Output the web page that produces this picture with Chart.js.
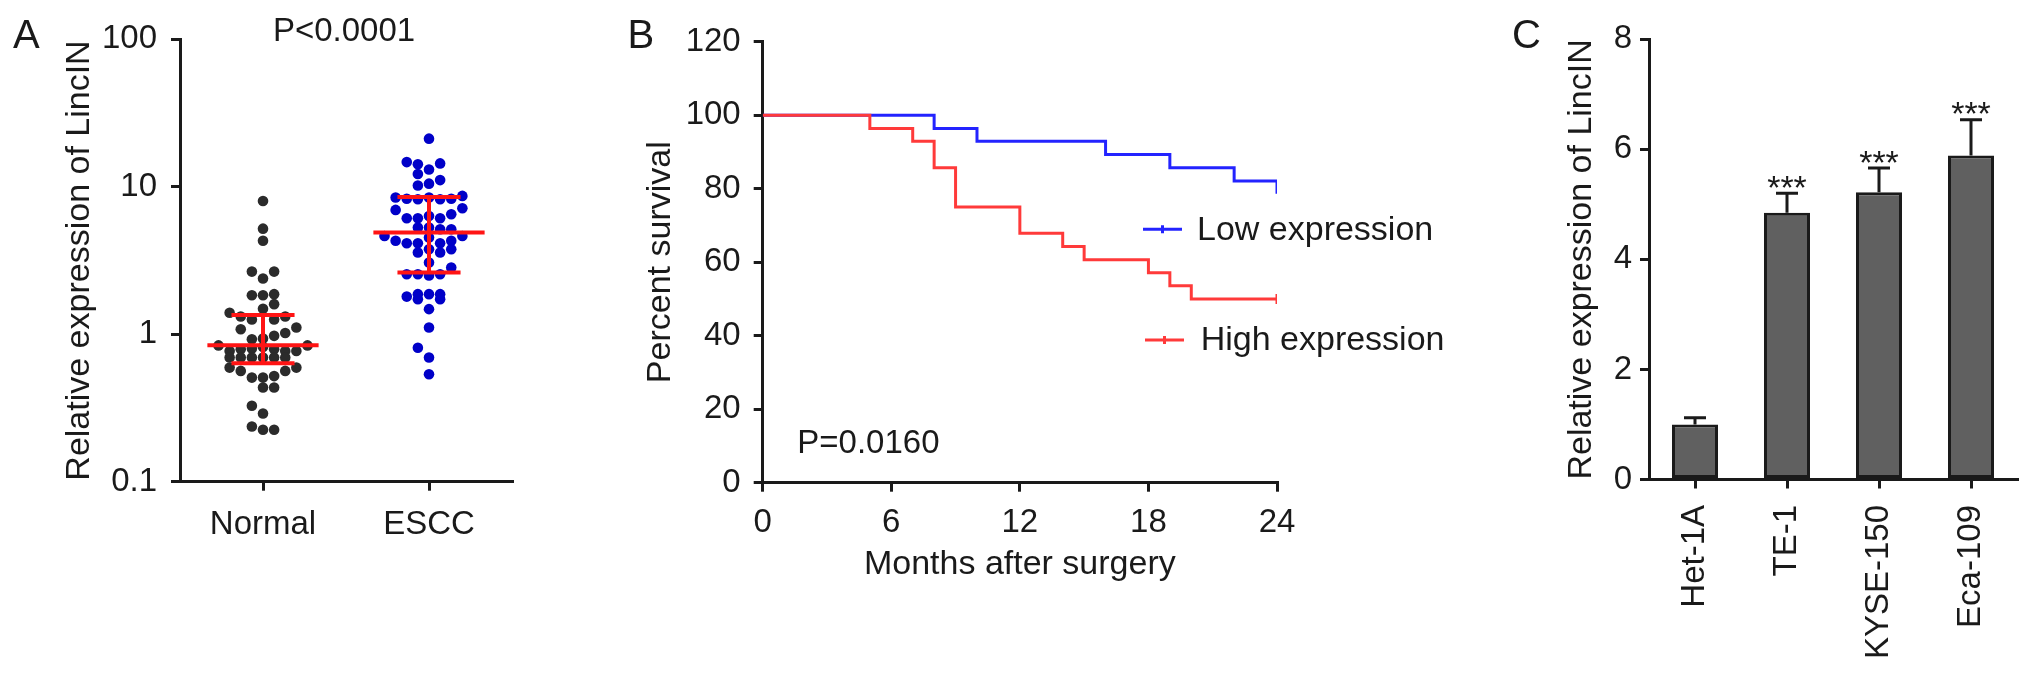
<!DOCTYPE html>
<html>
<head>
<meta charset="utf-8">
<script src="https://cdn.jsdelivr.net/npm/chart.js@4.4.1/dist/chart.umd.min.js"></script>
<style>
  html, body { margin: 0; padding: 0; background: #fff; }
  #wrap { position: relative; width: 2032px; height: 674px; overflow: hidden; background: #fff; }
  canvas { position: absolute; top: 0; }
</style>
</head>
<body>
<div id="wrap">
  <canvas id="panelA" width="600" height="674" style="left:0px"></canvas>
  <canvas id="panelB" width="880" height="674" style="left:600px"></canvas>
  <canvas id="panelC" width="552" height="674" style="left:1480px"></canvas>
</div>
<script>
"use strict";
// ---- panel A: dot plot, log scale ----
const groupsA = ['Normal', 'ESCC'];
const ticksA = [0.1, 1, 10, 100];
const normalValues = [8.0, 5.2, 4.3, 2.66, 2.66, 2.39, 1.84, 1.84, 1.87, 1.60, 1.49, 1.40,
  1.32, 1.26, 1.26, 1.32, 1.08, 1.02, 1.11, 0.975, 0.925, 0.935, 0.84, 0.84,
  0.77, 0.79, 0.80, 0.82, 0.79, 0.77, 0.77, 0.695, 0.695, 0.695, 0.695, 0.695, 0.695,
  0.594, 0.594, 0.564, 0.564, 0.508, 0.508, 0.52, 0.435, 0.435, 0.327, 0.29, 0.237, 0.225, 0.225];
const normalSlots = [0, 0, 0, -1, 1, 0, -1, 0, 1, 1, 0, -3,
  -2, -1, 1, 2, -2, 2, 3, 1, -1, 0, -4, 4,
  -3, -2, -1, 0, 1, 2, 3, -3, -2, -1, 0, 1, 2,
  -3, 3, -2, 2, -1, 0, 1, 0, 1, -1, 0, -1, 0, 1];
const esccValues = [21.2, 14.7, 14.2, 14.4, 13.1, 12.2, 11.1, 10.5, 10.2,
  8.45, 8.3, 8.22, 8.45, 8.22, 8.3, 8.67, 6.97, 7.15,
  6.11, 6.11, 6.34, 6.11, 6.51, 5.29, 5.29, 5.15, 5.15,
  4.64, 4.30, 4.14, 4.14, 4.52, 4.14, 4.30, 4.64,
  3.58, 3.77, 3.58, 3.77, 3.06, 2.83, 2.55, 2.55, 2.50, 2.55,
  1.87, 1.87, 1.87, 1.80, 1.73, 1.73, 1.48, 1.11, 0.81, 0.695, 0.535];
const esccSlots = [0, -2, -1, 1, 0, -1, 1, 0, -1,
  -3, -2, -1, 0, 1, 2, 3, -3, 3,
  -2, -1, 0, 1, 2, -1, 0, 1, 2,
  -4, -3, -2, -1, 0, 1, 2, 3,
  -1, 0, 1, 2, 0, 2, -2, -1, 0, 1,
  -1, 0, 1, -2, -1, 1, 0, 0, -1, 0, 0];
// red summary bars
const summaryMid = [0.842, 4.89];
const summaryHigh = [1.35, 8.53];
const summaryLow = [0.636, 2.62];

// ---- panel B: survival curves ----
const seriesB = ['Low expression', 'High expression'];
const lowMonths = [0, 8, 10, 16, 19, 22, 24];
const lowSurvival = [100, 96.4, 92.9, 89.3, 85.7, 82.1, 78.6];
const highMonths = [0, 5, 7, 8, 9, 12, 14, 15, 18, 19, 20, 24];
const highSurvival = [100, 96.4, 92.9, 85.7, 75.0, 67.9, 64.3, 60.7, 57.1, 53.6, 50.0, 50.0];
const highCensorMonths = [24];
const highCensorSurvival = [50.0];

// ---- panel C: bars ----
const cellLines = ['Het-1A', 'TE-1', 'KYSE-150', 'Eca-109'];
const relExpr = [1.0, 4.85, 5.22, 5.89];
const relSd = [0.12, 0.35, 0.44, 0.65];
const sigMarks = ['', '***', '***', '***'];

const FONT = "'Liberation Sans', Arial, Helvetica, sans-serif";
const INK = '#1a1a1a';
const BLUE = '#2323ff';
const RED = '#ff3a3a';
const SWARM_STEP = 0.067;

Chart.defaults.font.family = FONT;
Chart.defaults.color = INK;
Chart.defaults.animation = false;

function axisLines() {
  return {
    grid: { drawOnChartArea: false, drawTicks: true, tickLength: 9, color: INK, lineWidth: 3 },
    border: { display: true, color: INK, width: 3 }
  };
}

function textPlugin(id, items) {
  return {
    id: id,
    afterDraw(chart) {
      const ctx = chart.ctx;
      ctx.save();
      ctx.fillStyle = INK;
      ctx.textBaseline = 'alphabetic';
      items.forEach(t => {
        ctx.font = t.size + 'px ' + FONT;
        ctx.textAlign = t.align || 'left';
        ctx.fillText(t.text, t.x, t.y);
      });
      ctx.restore();
    }
  };
}

function swarm(values, slots, group) {
  return values.map((v, i) => ({ x: group + 0.5 + slots[i] * SWARM_STEP, y: v }));
}

const summaryPlugin = {
  id: 'summaryBars',
  afterDatasetsDraw(chart) {
    const { ctx, scales: { x, y } } = chart;
    ctx.save();
    ctx.strokeStyle = '#ff1414';
    ctx.lineWidth = 4;
    groupsA.forEach((g, i) => {
      const c = i + 0.5;
      const px = x.getPixelForValue(c);
      const midL = x.getPixelForValue(c - 0.335), midR = x.getPixelForValue(c + 0.335);
      const capL = x.getPixelForValue(c - 0.19), capR = x.getPixelForValue(c + 0.19);
      const yMid = y.getPixelForValue(summaryMid[i]);
      const yHi = y.getPixelForValue(summaryHigh[i]);
      const yLo = y.getPixelForValue(summaryLow[i]);
      ctx.beginPath();
      ctx.moveTo(midL, yMid); ctx.lineTo(midR, yMid);
      ctx.moveTo(capL, yHi); ctx.lineTo(capR, yHi);
      ctx.moveTo(capL, yLo); ctx.lineTo(capR, yLo);
      ctx.moveTo(px, yHi); ctx.lineTo(px, yLo);
      ctx.stroke();
    });
    ctx.restore();
  }
};

new Chart(document.getElementById('panelA'), {
  type: 'scatter',
  data: {
    datasets: [
      { data: swarm(normalValues, normalSlots, 0), backgroundColor: '#2b2b2b', pointRadius: 5.3, borderWidth: 0 },
      { data: swarm(esccValues, esccSlots, 1), backgroundColor: '#0000c8', pointRadius: 5.3, borderWidth: 0 }
    ]
  },
  options: {
    responsive: false,
    layout: { padding: { left: 0, right: 88, top: 39.3, bottom: 0 } },
    plugins: { legend: { display: false }, tooltip: { enabled: false } },
    scales: {
      x: Object.assign(axisLines(), {
        type: 'linear', min: 0, max: 2,
        afterBuildTicks: s => { s.ticks = groupsA.map((g, i) => ({ value: i + 0.5 })); },
        afterFit: s => { s.height = 192.3; },
        ticks: { padding: 14.5, font: { size: 33 }, color: INK, callback: (v, i) => groupsA[i] }
      }),
      y: Object.assign(axisLines(), {
        type: 'logarithmic', min: 0.1, max: 100,
        afterBuildTicks: s => { s.ticks = ticksA.map(v => ({ value: v })); },
        afterFit: s => { s.width = 180; },
        ticks: { padding: 14, font: { size: 33 }, color: INK, callback: v => String(v) },
        title: { display: true, text: 'Relative expression of LincIN', font: { size: 34 }, color: INK, padding: { top: 59.6, bottom: 0 } }
      })
    }
  },
  plugins: [summaryPlugin, textPlugin('notesA', [
    { text: 'A', x: 13, y: 48, size: 40 },
    { text: 'P<0.0001', x: 344, y: 41, size: 33, align: 'center' }
  ])]
});

function curve(months, surv) {
  return months.map((m, i) => ({ x: m, y: surv[i] }));
}

const legendB = {
  id: 'legendB',
  afterDraw(chart) {
    const ctx = chart.ctx;
    const rows = [
      { color: BLUE, lineY: 229.3, x0: 543, textX: 597, base: 240 },
      { color: RED, lineY: 340, x0: 545, textX: 600.7, base: 350 }
    ];
    ctx.save();
    rows.forEach((r, i) => {
      ctx.strokeStyle = r.color;
      ctx.lineWidth = 3;
      ctx.beginPath();
      ctx.moveTo(r.x0, r.lineY); ctx.lineTo(r.x0 + 39, r.lineY);
      ctx.moveTo(r.x0 + 19.5, r.lineY - 4); ctx.lineTo(r.x0 + 19.5, r.lineY + 4);
      ctx.stroke();
      ctx.fillStyle = INK;
      ctx.font = '34px ' + FONT;
      ctx.textAlign = 'left';
      ctx.textBaseline = 'alphabetic';
      ctx.fillText(seriesB[i], r.textX, r.base);
    });
    ctx.restore();
  }
};

new Chart(document.getElementById('panelB'), {
  type: 'line',
  data: {
    datasets: [
      { label: seriesB[1], data: curve(highMonths, highSurvival), borderColor: RED, borderWidth: 3, stepped: true, pointRadius: 0, fill: false },
      { label: 'censor', data: curve(highCensorMonths, highCensorSurvival), showLine: false, pointStyle: 'line', rotation: 90, pointRadius: 5, borderColor: RED, borderWidth: 3 },
      { label: seriesB[0], data: curve(lowMonths, lowSurvival), borderColor: BLUE, borderWidth: 3, stepped: true, pointRadius: 0, fill: false }
    ]
  },
  options: {
    responsive: false,
    layout: { padding: { left: 0, right: 203, top: 41.7, bottom: 0 } },
    plugins: { legend: { display: false }, tooltip: { enabled: false } },
    scales: {
      x: Object.assign(axisLines(), {
        type: 'linear', min: 0, max: 24,
        afterFit: s => { s.height = 191.3; },
        ticks: { stepSize: 6, padding: 11, font: { size: 33 }, color: INK },
        title: { display: true, text: 'Months after surgery', font: { size: 34 }, color: INK, padding: { top: 0, bottom: 88.6 } }
      }),
      y: Object.assign(axisLines(), {
        type: 'linear', min: 0, max: 120,
        afterFit: s => { s.width = 162.7; },
        ticks: { stepSize: 20, padding: 13, font: { size: 33 }, color: INK },
        title: { display: true, text: 'Percent survival', font: { size: 34 }, color: INK, padding: { top: 40.6, bottom: 0 } }
      })
    }
  },
  plugins: [legendB, textPlugin('notesB', [
    { text: 'B', x: 27.6, y: 48, size: 40 },
    { text: 'P=0.0160', x: 197.3, y: 453.3, size: 33 }
  ])]
});

const errorPlugin = {
  id: 'errorBars',
  afterDatasetsDraw(chart) {
    const { ctx, scales: { x, y } } = chart;
    ctx.save();
    ctx.strokeStyle = INK;
    ctx.fillStyle = INK;
    ctx.lineWidth = 3;
    ctx.font = '34px ' + FONT;
    ctx.textAlign = 'center';
    ctx.textBaseline = 'alphabetic';
    relExpr.forEach((m, i) => {
      const px = x.getPixelForValue(i);
      const top = y.getPixelForValue(m);
      const hi = y.getPixelForValue(m + relSd[i]);
      ctx.beginPath();
      ctx.moveTo(px, top); ctx.lineTo(px, hi);
      ctx.moveTo(px - 11, hi); ctx.lineTo(px + 11, hi);
      ctx.stroke();
      if (sigMarks[i]) ctx.fillText(sigMarks[i], px, hi + 5.5);
    });
    ctx.restore();
  }
};

const axC = axisLines();
axC.grid.offset = false;

new Chart(document.getElementById('panelC'), {
  type: 'bar',
  data: {
    labels: cellLines,
    datasets: [{ data: relExpr, backgroundColor: '#606060', borderColor: INK, borderWidth: 3, borderSkipped: false, categoryPercentage: 1, barPercentage: 0.5 }]
  },
  options: {
    responsive: false,
    layout: { padding: { left: 0, right: 15, top: 39.3, bottom: 0 } },
    plugins: { legend: { display: false }, tooltip: { enabled: false } },
    scales: {
      x: Object.assign(axC, {
        afterFit: s => { s.height = 194.5; },
        ticks: { minRotation: 90, maxRotation: 90, autoSkip: false, padding: 16.5, font: { size: 33 }, color: INK }
      }),
      y: Object.assign(axisLines(), {
        min: 0, max: 8,
        afterFit: s => { s.width = 169; },
        ticks: { stepSize: 2, padding: 8, font: { size: 33 }, color: INK },
        title: { display: true, text: 'Relative expression of LincIN', font: { size: 34 }, color: INK, padding: { top: 81.3, bottom: 0 } }
      })
    }
  },
  plugins: [errorPlugin, textPlugin('notesC', [
    { text: 'C', x: 32, y: 48, size: 40 }
  ])]
});
</script>
</body>
</html>
